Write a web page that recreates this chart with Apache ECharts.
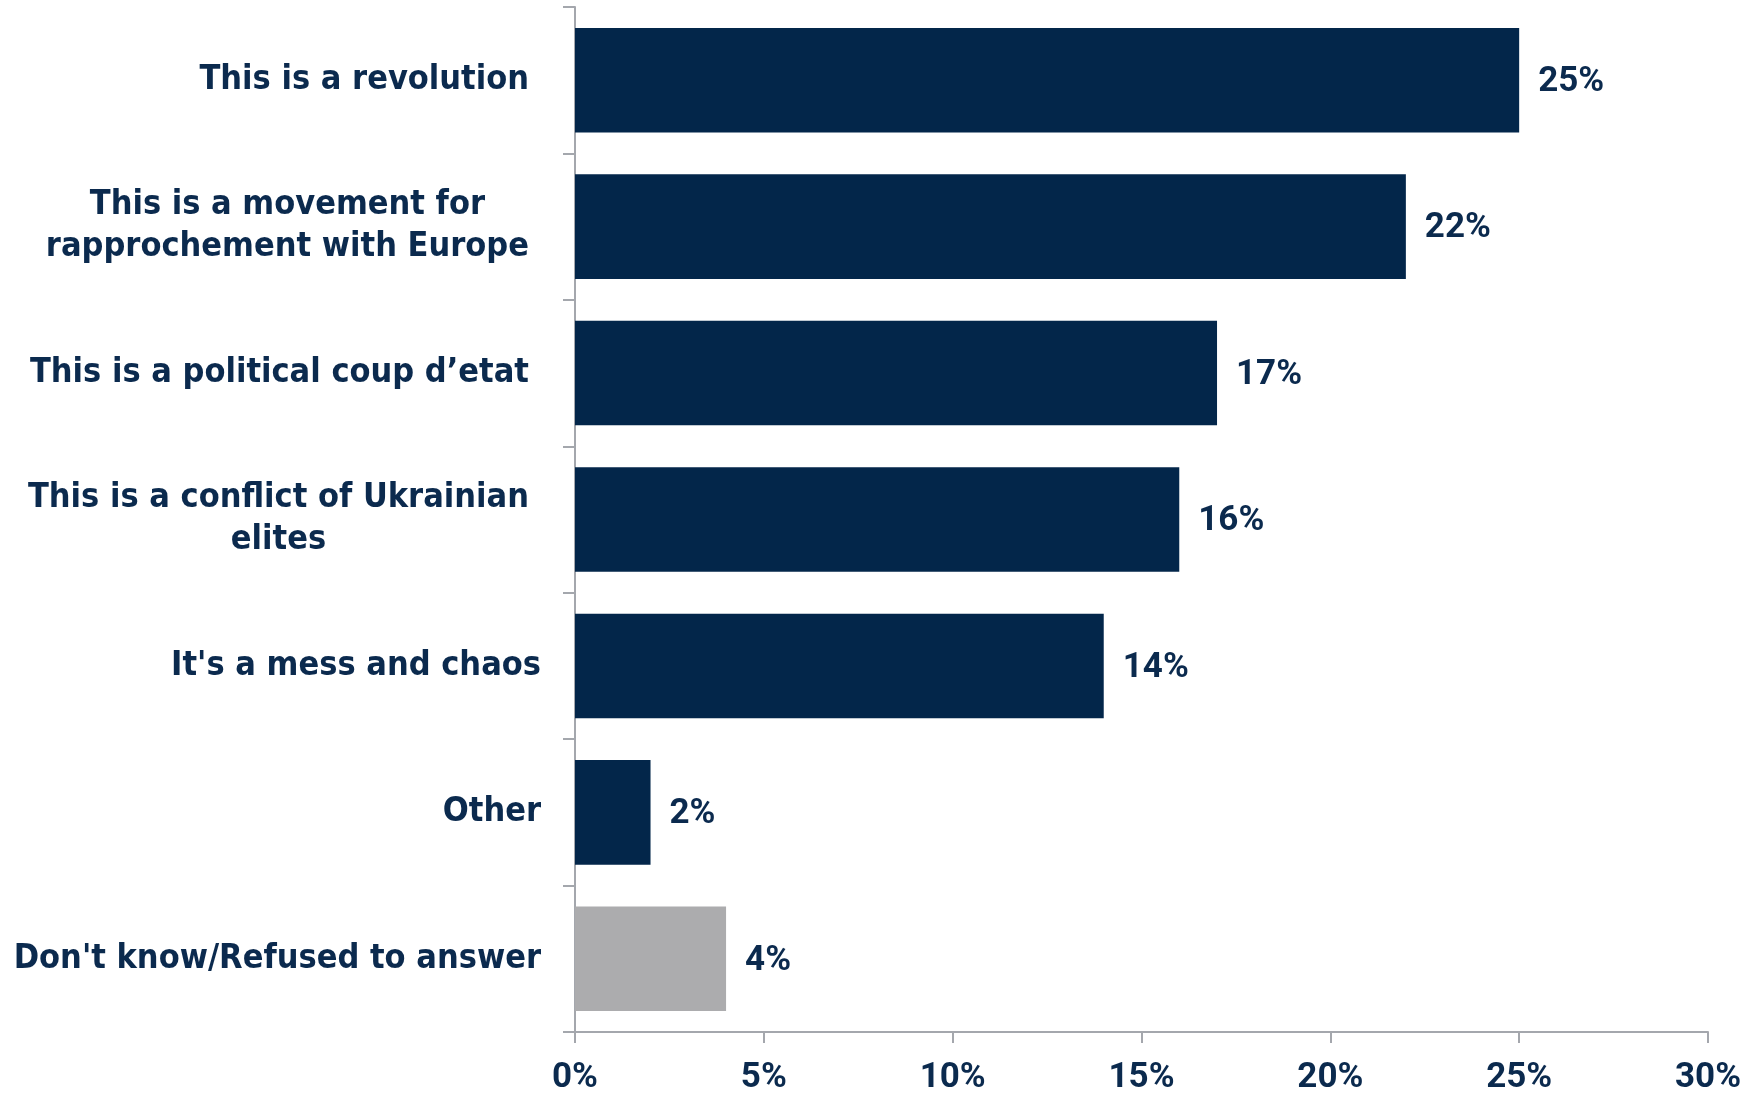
<!DOCTYPE html>
<html>
<head>
<meta charset="utf-8">
<style>
  html, body { margin: 0; padding: 0; background: #ffffff; }
  #chart { width: 1764px; height: 1096px; }
</style>
<script src="https://cdn.jsdelivr.net/npm/echarts@6/dist/echarts.min.js"></script>
</head>
<body>
<div id="chart"></div>
<script>
const categories = [
  "This is a revolution",
  "This is a movement for\nrapprochement with Europe",
  "This is a political coup d\u2019etat",
  "This is a conflict of Ukrainian\nelites",
  "It's a mess and chaos",
  "Other",
  "Don't know/Refused to answer"
];
const values = [25, 22, 17, 16, 14, 2, 4];
const xTicks = [0, 5, 10, 15, 20, 25, 30];

const NAVY = '#03264a';
const GREY = '#acacae';
const TEXT = '#0b2a4e';
const AXIS = '#a4a7ad';
const CAT_FONT = '"DejaVu Sans Condensed", "DejaVu Sans", sans-serif';
const NUM_FONT = 'Roboto';
const CAT_FS = 34;
const NUM_FS = 35;

const chart = echarts.init(document.getElementById('chart'), null, { renderer: 'canvas' });

const catStyle = { color: TEXT, fontFamily: CAT_FONT, fontWeight: 'bold', fontSize: CAT_FS, lineHeight: 42 };

chart.setOption({
  animation: false,
  backgroundColor: '#ffffff',
  grid: { left: 575, right: 56, top: 7, bottom: 62, containLabel: false },
  xAxis: {
    type: 'value',
    min: xTicks[0],
    max: xTicks[xTicks.length - 1],
    interval: 5,
    axisLine: { show: true, lineStyle: { color: AXIS, width: 2 } },
    axisTick: { show: true, length: 11, lineStyle: { color: AXIS, width: 2 } },
    splitLine: { show: false },
    axisLabel: {
      margin: 29,
      color: TEXT,
      fontFamily: NUM_FONT,
      fontWeight: 'bold',
      fontSize: NUM_FS,
      formatter: v => v + '%'
    }
  },
  yAxis: {
    type: 'category',
    inverse: true,
    data: categories,
    axisLine: { show: true, lineStyle: { color: AXIS, width: 2 } },
    axisTick: { show: true, length: 12, lineStyle: { color: AXIS, width: 2 } },
    splitLine: { show: false },
    axisLabel: Object.assign({
      margin: 34,
      formatter: (v, i) => {
        const tag = i < 4 ? 'a' : 'b';
        return v.split('\n').map(s => '{' + tag + '|' + s + '}').join('\n');
      },
      rich: {
        a: Object.assign({ align: 'center', padding: [0, 12, 0, 0] }, catStyle),
        b: Object.assign({ align: 'center' }, catStyle)
      }
    }, catStyle)
  },
  series: [{
    type: 'bar',
    barCategoryGap: '28.6%',
    data: values.map((v, i) => ({
      value: v,
      itemStyle: { color: categories[i].startsWith("Don't know") ? GREY : NAVY }
    })),
    label: {
      show: true,
      position: 'right',
      distance: 19,
      offset: [0, 2],
      color: TEXT,
      fontFamily: NUM_FONT,
      fontWeight: 'bold',
      fontSize: NUM_FS,
      formatter: p => p.value + '%'
    }
  }]
});
</script>
</body>
</html>
